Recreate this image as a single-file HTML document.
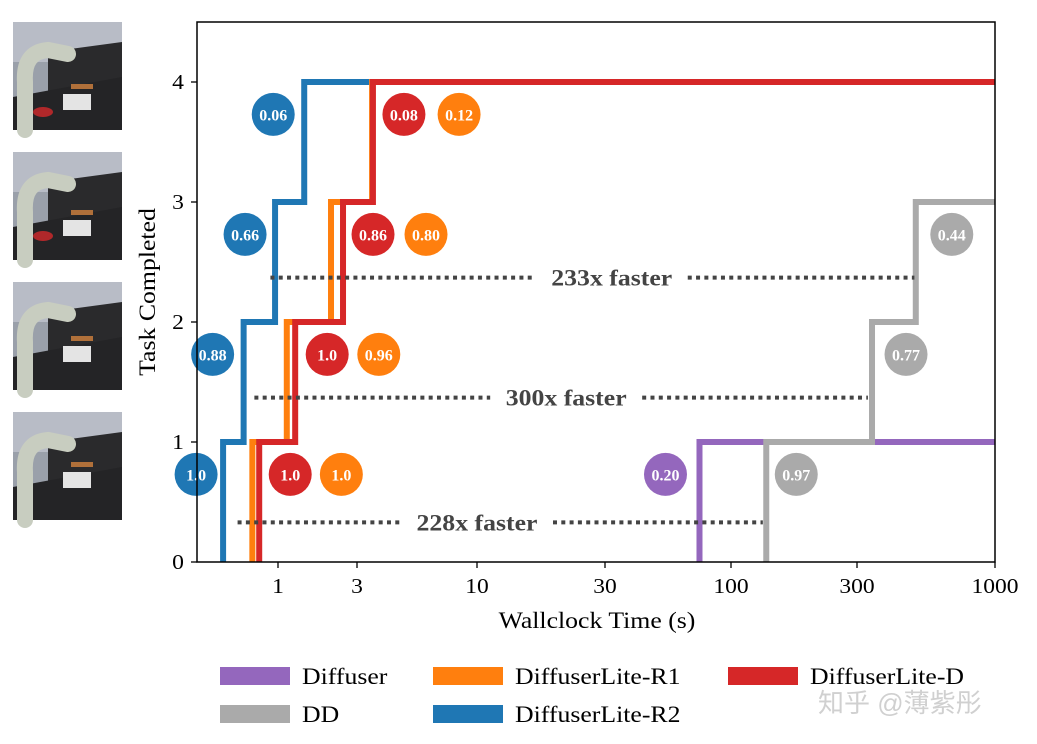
<!DOCTYPE html>
<html><head><meta charset="utf-8">
<style>
html,body{margin:0;padding:0;background:#fff;}
svg{display:block;font-family:"Liberation Serif",serif;}
</style></head>
<body>
<svg id="chart" width="1037" height="744" viewBox="0 0 1037 744" xmlns="http://www.w3.org/2000/svg">
<g id="thumbs"></g>
<g id="plot"></g>
<text x="818" y="712" font-size="26" fill="#d0d0d0" font-family="'Liberation Sans','Noto Sans CJK SC',sans-serif">知乎 @薄紫彤</text>
</svg>
<script>
const NS='http://www.w3.org/2000/svg';
// ---- data ----
const xTicks=[1,3,10,30,100,300,1000];
const xTickLabels=['1','3','10','30','100','300','1000'];
const yTicks=[0,1,2,3,4];
const seriesNames=['Diffuser','DD','DiffuserLite-R1','DiffuserLite-R2','DiffuserLite-D'];
const seriesColors=['#9467bd','#aaaaaa','#ff7f0e','#1f77b4','#d62728'];
const diffuserSteps=[74];
const ddSteps=[136,342,501];
const r1Steps=[0.70,1.13,2.09,3.49];
const r2Steps=[0.466,0.62,0.96,1.44];
const dSteps=[0.77,1.27,2.47,3.52];
const diffuserScores=['0.20'];
const ddScores=['0.97','0.77','0.44'];
const r1Scores=['1.0','0.96','0.80','0.12'];
const r2Scores=['1.0','0.88','0.66','0.06'];
const dScores=['1.0','1.0','0.86','0.08'];
const speedups=['228x faster','300x faster','233x faster'];
const speedupLevels=[0.33,1.37,2.37];
const speedupFrom=[0.57,0.72,0.90];
const speedupTo=[132,330,495];
const speedupLabelAt=[10,21.5,32];

// ---- axes ----
const X0=197,X1=995,Y0=562,Y1=22;
const tickPx=[278,357,477,605,731,857,995];
function xs(v){
  const lv=Math.log10(v);
  const lt=xTicks.map(Math.log10);
  let i=0;
  if(lv<lt[0]) i=0; else { while(i<lt.length-2 && lv>lt[i+1]) i++; }
  return tickPx[i]+(lv-lt[i])/(lt[i+1]-lt[i])*(tickPx[i+1]-tickPx[i]);
}
function ys(v){return Y0-v*120;}
const plot=document.getElementById('plot');
const stretch=[];
function el(tag,attrs,parent){const e=document.createElementNS(NS,tag);for(const k in attrs)e.setAttribute(k,attrs[k]);(parent||plot).appendChild(e);return e;}

// series
const stepsAll=[diffuserSteps,ddSteps,r1Steps,r2Steps,dSteps];
const order=[0,1,3,2,4];
order.forEach(si=>{
  const st=stepsAll[si];
  let d='M'+xs(st[0])+','+ys(0);
  st.forEach((t,k)=>{d+=' L'+xs(t)+','+ys(k)+' L'+xs(t)+','+ys(k+1);});
  d+=' L'+X1+','+ys(st.length);
  const p=el('path',{d:d,fill:'none',stroke:seriesColors[si],'stroke-width':6,'stroke-linejoin':'miter'});
  
  
});

// speedup dotted lines
speedups.forEach((s,i)=>{
  const y=ys(speedupLevels[i]);
  const a=xs(speedupFrom[i]),b=xs(speedupTo[i]);
  const mid=xs(speedupLabelAt[i]);
  const half=76;
  const g=el('g',{});
  
  
  el('line',{x1:a,y1:y,x2:mid-half,y2:y,stroke:'#444','stroke-width':4,'stroke-dasharray':'4 4.3'},g);
  el('line',{x1:mid+half,y1:y,x2:b,y2:y,stroke:'#444','stroke-width':4,'stroke-dasharray':'4 4.3'},g);
  const t=el('text',{x:mid,y:y+8,'text-anchor':'middle','font-size':23,'font-weight':'bold',fill:'#444'},g);
  t.textContent=s;
  stretch.push(t);
});

// score badges
const scoreAll=[diffuserScores,ddScores,r1Scores,r2Scores,dScores];
const badgeOff=[[-34],[30,34,36],[89,92,95,87],[-27,-31,-30,-31],[31,32,30,31]];
order.forEach(si=>{
  scoreAll[si].forEach((sc,k)=>{
    const cx=xs(stepsAll[si][k])+badgeOff[si][k];
    const cy=ys(k+0.73);
    const g=el('g',{});
    
    
    el('circle',{cx:cx,cy:cy,r:21.5,fill:seriesColors[si]},g);
    const t=el('text',{x:cx,y:cy+6,'text-anchor':'middle','font-size':16,'font-weight':'bold',fill:'#fff'},g);
    t.textContent=sc;
  });
});

// frame
el('rect',{x:X0,y:Y1,width:X1-X0,height:Y0-Y1,fill:'none',stroke:'#000','stroke-width':1.5});
xTicks.forEach((v,i)=>{
  const x=xs(v);
  el('line',{x1:x,y1:Y0,x2:x,y2:Y0+6,stroke:'#000','stroke-width':1.3});
  const t=el('text',{x:x,y:Y0+31,'text-anchor':'middle','font-size':21,fill:'#000'});
  
  
  t.textContent=xTickLabels[i];
  stretch.push(t);
});
yTicks.forEach(v=>{
  const y=ys(v);
  el('line',{x1:X0-6,y1:y,x2:X0,y2:y,stroke:'#000','stroke-width':1.3});
  const t=el('text',{x:X0-13,y:y+7,'text-anchor':'end','font-size':21,fill:'#000'});
  
  
  t.textContent=String(v);
  stretch.push(t);
});
const xt=el('text',{x:597,y:628,'text-anchor':'middle','font-size':23});

xt.textContent='Wallclock Time (s)';
stretch.push(xt);
const yt=el('text',{x:0,y:0,transform:'translate(155,292) rotate(-90)','text-anchor':'middle','font-size':23});

yt.textContent='Task Completed';
stretch.push(yt);

// legend
const legPos=[[220,676],[220,714],[433,676],[433,714],[728,676]];
seriesNames.forEach((n,i)=>{
  const g=el('g',{});
  
  
  el('rect',{x:legPos[i][0],y:legPos[i][1]-9,width:70,height:18,fill:seriesColors[i]},g);
  const t=el('text',{x:legPos[i][0]+82,y:legPos[i][1]+8,'font-size':23},g);
  t.textContent=n;
  stretch.push(t);
});

stretch.forEach(t=>{
  const w=t.getComputedTextLength();
  if(w>0){t.setAttribute('textLength',(w*1.12).toFixed(1));t.setAttribute('lengthAdjust','spacingAndGlyphs');}
});

// thumbnails
const th=document.getElementById('thumbs');
[22,152,282,412].forEach((y,i)=>{
  const g=el('g',{transform:'translate(13,'+y+')'},th);
  
  
  el('rect',{x:0,y:0,width:109,height:108,fill:'#9aa0aa'},g);
  el('rect',{x:0,y:0,width:109,height:40,fill:'#b8bcc6'},g);
  el('polygon',{points:'35,30 109,20 109,60 35,70',fill:'#2a2a2c'},g);
  el('polygon',{points:'0,75 109,55 109,108 0,108',fill:'#242426'},g);
  el('rect',{x:50,y:72-i*4,width:28,height:16,fill:'#e4e4e4'},g);
  el('rect',{x:58,y:62-i*4,width:22,height:5,fill:'#b0703a'},g);
  el('path',{d:'M12,108 L12,60 Q10,30 35,28 L55,32',fill:'none',stroke:'#c8cdc0','stroke-width':16,'stroke-linecap':'round'},g);
  if(i<2) el('ellipse',{cx:30,cy:90-i*6,rx:10,ry:5,fill:'#b0282a'},g);
});
</script>
</body></html>
